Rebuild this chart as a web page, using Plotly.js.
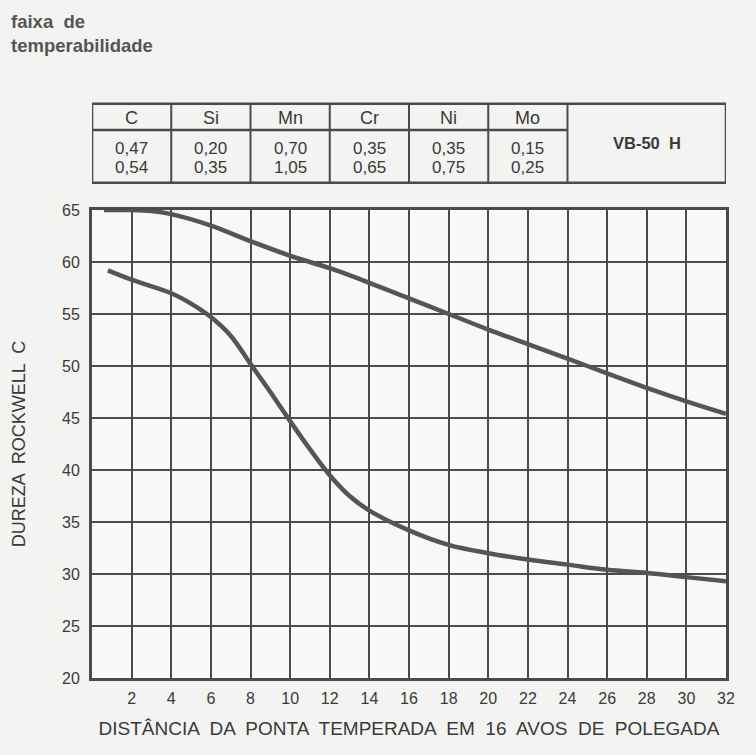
<!DOCTYPE html>
<html>
<head>
<meta charset="utf-8">
<script src="https://cdn.plot.ly/plotly-3.0.1.min.js"></script>
<style>html,body{margin:0;padding:0;background:#f3f3f1;}</style>
</head>
<body>
<div id="chart" style="width:756px;height:755px;"></div>
<script>
// Upper band limit (max hardness)
const upperX = [0.6, 2, 3, 4, 6, 8, 10, 12, 14, 16, 18, 20, 22, 24, 26, 28, 30, 32];
const upperY = [65, 65, 64.9, 64.6, 63.5, 62.0, 60.6, 59.4, 58.0, 56.5, 55.0, 53.5, 52.1, 50.7, 49.3, 47.9, 46.6, 45.4];
// Lower band limit (min hardness)
const lowerX = [0.8, 2, 4, 5, 6, 7, 8, 9, 10, 11, 12, 13, 14, 16, 18, 20, 22, 24, 26, 28, 30, 32];
const lowerY = [59.2, 58.3, 57.0, 56.0, 54.7, 52.9, 50.2, 47.5, 44.7, 42.0, 39.5, 37.5, 36.1, 34.2, 32.8, 32.0, 31.4, 30.9, 30.4, 30.1, 29.7, 29.3];

const xTicks = [2, 4, 6, 8, 10, 12, 14, 16, 18, 20, 22, 24, 26, 28, 30, 32];
const yTicks = [20, 25, 30, 35, 40, 45, 50, 55, 60, 65];

// Composition table
const elements = ['C', 'Si', 'Mn', 'Cr', 'Ni', 'Mo'];
const minVals = ['0,47', '0,20', '0,70', '0,35', '0,35', '0,15'];
const maxVals = ['0,54', '0,35', '1,05', '0,65', '0,75', '0,25'];
const steelName = 'VB-50  H';

const lineCol = '#555555';
const gridCol = '#4a4a4a';
const txtCol = '#3a3a3a';
const fontFam = 'Liberation Sans, Arial, sans-serif';

// table geometry (x in data units, y in paper units)
const colEdges = [0, 4, 8, 12, 16, 20, 24, 32];
const tTop = 1.227, tHead = 1.171, tBot = 1.058;
const yHeadTxt = 1.197, yMinTxt = 1.132, yMaxTxt = 1.090;

const shapes = [];
shapes.push({type:'rect', xref:'x', yref:'paper', x0:colEdges[0], x1:colEdges[colEdges.length-1], y0:tBot, y1:tTop, line:{color:gridCol, width:2.5}});
shapes.push({type:'line', xref:'x', yref:'paper', x0:colEdges[0], x1:colEdges[colEdges.length-2], y0:tHead, y1:tHead, line:{color:gridCol, width:2.5}});
for (let i = 1; i < colEdges.length - 1; i++) {
  shapes.push({type:'line', xref:'x', yref:'paper', x0:colEdges[i], x1:colEdges[i], y0:tBot, y1:tTop, line:{color:gridCol, width:2}});
}

const annotations = [];
const cellFont = {size:17, color:txtCol, family:fontFam};
elements.forEach((el, i) => {
  const cx = (colEdges[i] + colEdges[i+1]) / 2;
  annotations.push({xref:'x', yref:'paper', x:cx, y:yHeadTxt, xanchor:'center', yanchor:'middle', text:el, showarrow:false, font:{size:18, color:txtCol, family:fontFam}});
  annotations.push({xref:'x', yref:'paper', x:cx, y:yMinTxt, xanchor:'center', yanchor:'middle', text:minVals[i], showarrow:false, font:cellFont});
  annotations.push({xref:'x', yref:'paper', x:cx, y:yMaxTxt, xanchor:'center', yanchor:'middle', text:maxVals[i], showarrow:false, font:cellFont});
});
annotations.push({xref:'x', yref:'paper', x:(colEdges[6]+colEdges[7])/2, y:1.143, xanchor:'center', yanchor:'middle', text:'<b>' + steelName + '</b>', showarrow:false, font:{size:16.5, color:txtCol, family:fontFam}});
annotations.push({xref:'paper', yref:'paper', x:-0.131, y:1.430, xanchor:'left', yanchor:'top', align:'left',
  text:'<b>faixa  de<br>temperabilidade</b>', showarrow:false, font:{size:18.5, color:'#555', family:fontFam}});

const traces = [
  {x: upperX, y: upperY, mode:'lines', line:{color:lineCol, width:4.5, shape:'spline', smoothing:1}, hoverinfo:'skip'},
  {x: lowerX, y: lowerY, mode:'lines', line:{color:lineCol, width:4.5, shape:'spline', smoothing:1}, hoverinfo:'skip'}
];

const layout = {
  width:756, height:755,
  margin:{l:92, r:30, t:210, b:77},
  paper_bgcolor:'#f3f3f1', plot_bgcolor:'#f8f8f6',
  showlegend:false,
  xaxis:{range:[0,32], tickvals:xTicks, ticktext:xTicks.map(String),
    showgrid:true, gridcolor:gridCol, gridwidth:2, zeroline:false,
    showline:true, linecolor:gridCol, linewidth:3, mirror:true, ticks:'',
    ticklabelstandoff:4,
    tickfont:{size:16, color:txtCol, family:fontFam},
    title:{text:'DISTÂNCIA  DA  PONTA  TEMPERADA  EM  16  AVOS  DE  POLEGADA', standoff:16, font:{size:19, color:txtCol, family:fontFam}}},
  yaxis:{range:[20,65], tickvals:yTicks, showgrid:true, gridcolor:gridCol, gridwidth:2, zeroline:false,
    showline:true, linecolor:gridCol, linewidth:3, mirror:true, ticks:'',
    ticklabelstandoff:6,
    tickfont:{size:16, color:txtCol, family:fontFam},
    title:{text:'DUREZA  ROCKWELL  C', standoff:32, font:{size:18, color:txtCol, family:fontFam}}},
  shapes: shapes,
  annotations: annotations
};

Plotly.newPlot('chart', traces, layout, {displayModeBar:false, staticPlot:true});
</script>
</body>
</html>
